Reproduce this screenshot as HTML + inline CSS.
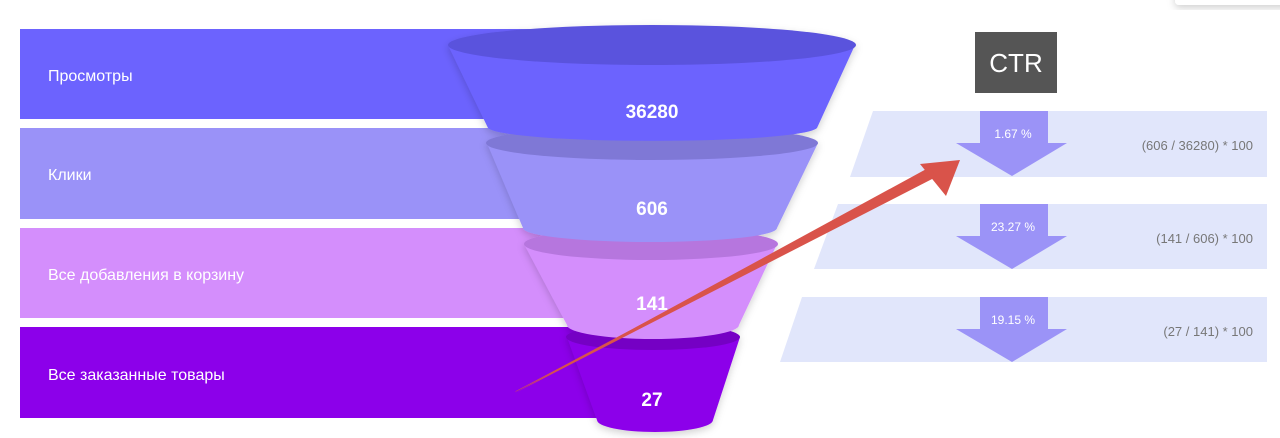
<!DOCTYPE html>
<html><head><meta charset="utf-8"><style>
html,body{margin:0;padding:0;background:#fff;}
svg{display:block;}
</style></head><body>
<svg width="1280" height="438" viewBox="0 0 1280 438" xmlns="http://www.w3.org/2000/svg" font-family="Liberation Sans, DejaVu Sans, sans-serif">
<defs>
<filter id="sh" x="-20%" y="-20%" width="140%" height="140%"><feDropShadow dx="0" dy="3" stdDeviation="4" flood-color="#000" flood-opacity="0.18"/></filter>
</defs>
<rect width="1280" height="438" fill="#fff"/>
<!-- top right card -->
<rect x="1175" y="-20" width="120" height="25" rx="4" fill="#fff" filter="url(#sh)"/>
<!-- bars -->
<rect x="20" y="29" width="580" height="90" fill="#6c63fe"/>
<rect x="20" y="128" width="580" height="91" fill="#9a92f8"/>
<rect x="20" y="228" width="580" height="90" fill="#d48efc"/>
<rect x="20" y="327" width="580" height="91" fill="#8c00ea"/>
<g fill="#fff" font-size="16">
<text x="48" y="81">Просмотры</text>
<text x="48" y="180">Клики</text>
<text x="48" y="280">Все добавления в корзину</text>
<text x="48" y="380">Все заказанные товары</text>
</g>
<!-- funnel seg4 -->
<g filter="url(#sh)">
<path d="M567 337 L597 420 A58 12 0 0 0 713 420 L740 337 Z" fill="#8c00ea"/>
<ellipse cx="653" cy="337" rx="87" ry="13" fill="#7400c4"/>
<!-- seg3 -->
<path d="M524 244 L567 325 A86 14 0 0 0 739 325 L777 244 Z" fill="#d48efc"/>
<ellipse cx="651" cy="244" rx="127" ry="16" fill="#b676de"/>
<!-- seg2 -->
<path d="M487 143 L523 228 A127 14 0 0 0 777 228 L818 143 Z" fill="#9a92f8"/>
<ellipse cx="652" cy="143" rx="166" ry="17" fill="#7f78d6"/>
<!-- seg1 -->
<path d="M448 45 L488 128 A165 14 0 0 0 817 128 L855 45 Z" fill="#6c63fe"/>
<ellipse cx="652" cy="45" rx="204" ry="20" fill="#5a52dd"/>
</g>
<g fill="#fff" font-size="19" font-weight="bold" text-anchor="middle">
<text x="652" y="118">36280</text>
<text x="652" y="215">606</text>
<text x="652" y="310">141</text>
<text x="652" y="406">27</text>
</g>
<!-- right panels -->
<polygon points="873,111 1267,111 1267,177 850,177" fill="#e1e6fb"/>
<polygon points="838,204 1267,204 1267,269 814,269" fill="#e1e6fb"/>
<polygon points="802,297 1267,297 1267,362 780,362" fill="#e1e6fb"/>
<g fill="#9b93f7">
<polygon points="980,111 1048,111 1048,143 1067,143 1012,176 956,143 980,143"/>
<polygon points="980,204 1048,204 1048,236 1067,236 1012,269 956,236 980,236"/>
<polygon points="980,297 1048,297 1048,329 1067,329 1012,362 956,329 980,329"/>
</g>
<g fill="#fff" font-size="12" text-anchor="middle">
<text x="1013" y="138">1.67 %</text>
<text x="1013" y="231">23.27 %</text>
<text x="1013" y="324">19.15 %</text>
</g>
<g fill="#777" font-size="13" text-anchor="end">
<text x="1253" y="150">(606 / 36280) * 100</text>
<text x="1253" y="243">(141 / 606) * 100</text>
<text x="1253" y="336">(27 / 141) * 100</text>
</g>
<!-- CTR -->
<rect x="975" y="32" width="82" height="61" fill="#555"/>
<text x="1016" y="72" fill="#fff" font-size="26" text-anchor="middle">CTR</text>
<!-- red arrow -->
<polygon points="515,392 935,176 931,170 516,391" fill="#d9534a"/>
<polygon points="960,160 920,164 946,196" fill="#d9534a"/>
<polygon points="515,393 936,177 930,167" fill="#d9534a"/>
</svg>
</body></html>
